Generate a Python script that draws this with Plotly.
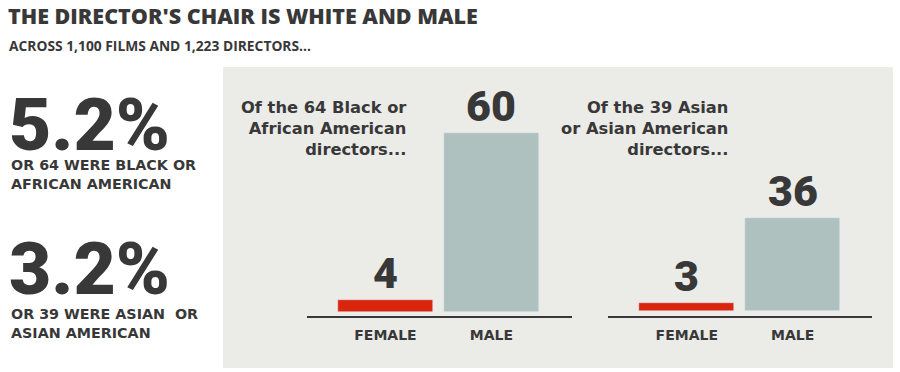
import plotly.graph_objects as go

# ---- data ----
categories = ["FEMALE", "MALE"]
black_counts = [4, 60]
asian_counts = [3, 36]
bar_colors = ["#d8250c", "#afc1bf"]

title = "THE DIRECTOR'S CHAIR IS WHITE AND MALE"
subtitle = "ACROSS 1,100 FILMS AND 1,223 DIRECTORS..."
stat_values = ["5.2%", "3.2%"]
stat_labels = ["OR 64 WERE BLACK OR<br>AFRICAN AMERICAN", "OR 39 WERE ASIAN  OR<br>ASIAN AMERICAN"]
chart_headings = ["Of the 64 Black or<br>African American<br>directors...",
                  "Of the 39 Asian<br>or Asian American<br>directors..."]

W, H = 900, 372
DARK = "#383838"

def px(x):
    return x / W

def py(y):
    return 1 - y / H

fig = go.Figure()

fig.add_trace(go.Bar(x=categories, y=black_counts, marker_color=bar_colors,
                     width=0.9, xaxis="x", yaxis="y", showlegend=False, hoverinfo="x+y"))
fig.add_trace(go.Bar(x=categories, y=asian_counts, marker_color=bar_colors,
                     width=0.9, xaxis="x2", yaxis="y2", showlegend=False, hoverinfo="x+y"))

ydom = [py(316), py(68)]
axis_common = dict(showgrid=False, zeroline=False, showline=True, linecolor=DARK,
                   linewidth=1.6, ticks="", fixedrange=True, ticklabelstandoff=5,
                   tickfont=dict(family="DejaVu Sans", size=14, color=DARK, weight="bold"))
fig.update_layout(
    xaxis=dict(domain=[px(307), px(572)], range=[-0.74, 1.76], anchor="y", **axis_common),
    yaxis=dict(domain=ydom, range=[-1.24, 81.6], visible=False, fixedrange=True),
    xaxis2=dict(domain=[px(608), px(872)], range=[-0.744, 1.75], anchor="y2", **axis_common),
    yaxis2=dict(domain=ydom, range=[-1.95, 94.5], visible=False, fixedrange=True),
)

# grey panel
fig.add_shape(type="rect", xref="paper", yref="paper", x0=px(223), x1=px(893),
              y0=py(368), y1=py(67), fillcolor="#ebebe8", line_width=0, layer="below")

ann = []
ann.append(dict(text=title, x=px(7), y=1, xanchor="left", yanchor="top", borderpad=0,
                font=dict(family="Open Sans", size=21.5, color=DARK, weight=800)))
ann.append(dict(text=subtitle, x=px(7), y=py(45), xanchor="left", yanchor="middle",
                font=dict(family="Open Sans", size=13.8, color=DARK, weight="bold")))
for val, yc in zip(stat_values, [125, 269]):
    ann.append(dict(text=val, x=px(7), y=py(yc), xanchor="left", yanchor="middle",
                    font=dict(family="Roboto", size=73, color=DARK, weight=900)))
for lab, yl in zip(stat_labels, [174, 323.5]):
    ann.append(dict(text=lab, x=px(9), y=py(yl), xanchor="left", yanchor="middle", align="left",
                    font=dict(family="DejaVu Sans", size=14.3, color=DARK, weight="bold")))
for head, xr in zip(chart_headings, [408, 730]):
    ann.append(dict(text=head, x=px(xr), y=py(128), xanchor="right", yanchor="middle", align="right",
                    font=dict(family="DejaVu Sans", size=16.3, color=DARK, weight="bold")))
for xa, ya, vals in [("x", "y", black_counts), ("x2", "y2", asian_counts)]:
    for c, v in zip(categories, vals):
        ann.append(dict(text=str(v), x=c, y=v, xref=xa, yref=ya, xanchor="center",
                        yanchor="bottom", yshift=0,
                        font=dict(family="Roboto", size=43, color=DARK, weight=900)))

for a in ann:
    a.setdefault("xref", "paper")
    a.setdefault("yref", "paper")
    a["showarrow"] = False

fig.update_layout(annotations=ann, width=W, height=H, margin=dict(l=0, r=0, t=0, b=0),
                  paper_bgcolor="white", plot_bgcolor="rgba(0,0,0,0)", bargap=0)

fig.write_html("out.html", config={"displayModeBar": False},
               post_script="document.body.style.margin='0';")
